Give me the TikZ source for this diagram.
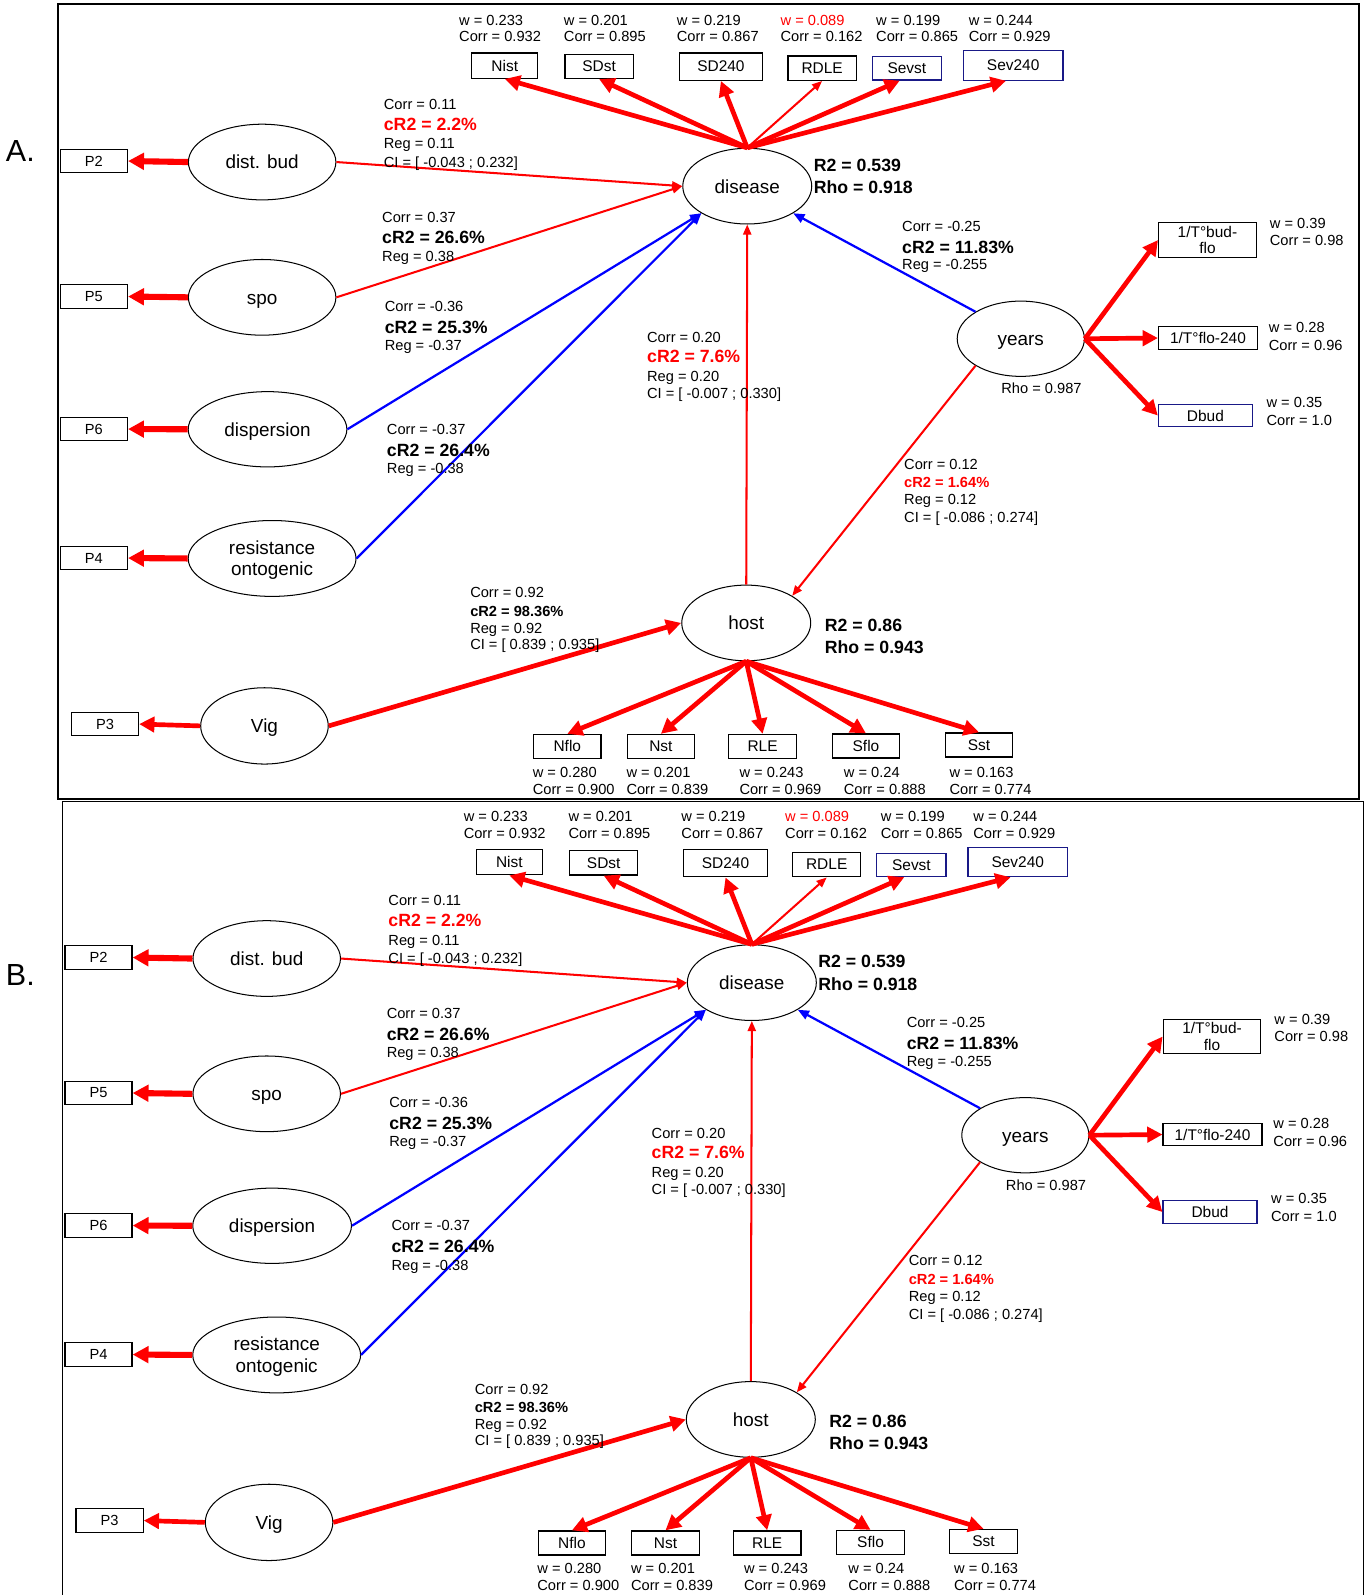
\documentclass[tikz,border=0pt]{standalone}
\usepackage{fontspec}
\setmainfont{Liberation Sans}
\usetikzlibrary{shapes.geometric,arrows.meta}

\definecolor{navybox}{RGB}{25,25,135}
\newcommand\fsz[2]{\fontsize{#1}{#2}\selectfont}
\newcounter{labc}
% \lbl[options]{x}{y}{text}: one line of a statistics label, left edge at x
\newcommand\lbl[4][]{\stepcounter{labc}\node[lab,#1] (lab\arabic{labc}) at (#2,#3) {#4};}

\tikzset{
  ell/.style={draw, ellipse, line width=0.5pt, inner sep=0pt, font=\fsz{9.3}{10.5}, align=center,
    text height=6.8pt, text depth=0pt},
  bx/.style={draw, rectangle, line width=0.6pt, inner sep=0pt, minimum height=11.8pt, font=\fsz{7.6}{8}, align=center},
  bbx/.style={bx, draw=navybox},
  pbx/.style={bx, minimum width=33pt, minimum height=11.5pt, font=\fsz{7.2}{8}},
  lab/.style={inner sep=0pt, anchor=mid west, font=\fsz{7.2}{8}},
  bigb/.style={font=\fsz{8.7}{10}\bfseries},
  smb/.style={font=\fsz{7.2}{8}\bfseries},
  fat/.style={draw=red, line width=2.3pt, -{Triangle[length=7.5pt,width=7.5pt]}},
  pfat/.style={draw=red, line width=3pt, -{Triangle[length=7.8pt,width=8pt]}},
  rln/.style={draw=red, line width=1pt, -{Triangle[length=5pt,width=4pt]}},
  bln/.style={draw=blue, line width=1.1pt, -{Triangle[length=5.5pt,width=4.5pt]}},
  frame/.style={draw=black, line width=0.75pt},
}

% one complete path model; #1 = name prefix, (#2,#3) = offset
\newcommand\drawpanel[3]{%
\begin{scope}[shift={(#2,#3)}]
  % latent variables
  \node[ell,minimum width=63.4pt,minimum height=37.2pt] (#1dis) at (734.6,183) {disease};
  \node[ell,minimum width=72.5pt,minimum height=37.2pt] (#1bud) at (257.7,159.3) {dist. bud};
  \node[ell,minimum width=72.5pt,minimum height=37.2pt] (#1spo) at (257.7,292.3) {spo};
  \node[ell,minimum width=78pt,minimum height=37pt] (#1dsp) at (263,422) {dispersion};
  \node[ell,minimum width=82.5pt,minimum height=37.3pt,text height=16.8pt] (#1res) at (267.5,549) {resistance\\ontogenic};
  \node[ell,minimum width=62.7pt,minimum height=37.5pt] (#1vig) at (260,713.6) {Vig};
  \node[ell,minimum width=63.4pt,minimum height=37.2pt] (#1host) at (733.6,612.4) {host};
  \node[ell,minimum width=62.5pt,minimum height=37pt] (#1yrs) at (1003.5,333) {years};
  % disease indicators
  \node[bx,minimum width=32.5pt,minimum height=12.5pt] (#1nist) at (496.2,64.5) {Nist};
  \node[bx,minimum width=33.5pt,minimum height=12pt] (#1sdst) at (589,65.2) {SDst};
  \node[bx,minimum width=41pt,minimum height=13.5pt] (#1sdd) at (708.7,65.5) {SD240};
  \node[bx,minimum width=33.5pt,minimum height=12pt] (#1rdle) at (808.2,67) {RDLE};
  \node[bbx,minimum width=34pt,minimum height=11.5pt] (#1sevst) at (891.5,67.2) {Sevst};
  \node[bbx,minimum width=49pt,minimum height=14.5pt] (#1sev) at (996,64.3) {Sev240};
  % manifest variables on the left
  \node[pbx] (#1pa) at (92.3,158.3) {P2};
  \node[pbx] (#1pb) at (92.3,291.5) {P5};
  \node[pbx] (#1pc) at (92.3,421.8) {P6};
  \node[pbx] (#1pd) at (92.3,548.6) {P4};
  \node[pbx] (#1pe) at (103.2,711.8) {P3};
  % years indicators
  \node[bx,minimum width=48pt,minimum height=17pt] (#1tbf) at (1187,236) {1/T°bud-\\flo};
  \node[bx,minimum width=48.6pt,minimum height=11pt] (#1tfl) at (1187.5,332.3) {1/T°flo-240};
  \node[bbx,minimum width=46.2pt,minimum height=11pt] (#1dbud) at (1185,408.5) {Dbud};
  % host indicators
  \node[bx,minimum width=33.2pt] (#1nflo) at (557.7,733.8) {Nflo};
  \node[bx,minimum width=33.2pt] (#1nst) at (649.7,733.8) {Nst};
  \node[bx,minimum width=33.2pt] (#1rle) at (749.7,733.8) {RLE};
  \node[bx,minimum width=33.2pt] (#1sflo) at (851.3,733.3) {Sflo};
  \node[bx,minimum width=33.2pt] (#1sst) at (962.4,732.3) {Sst};
  % loadings
  \draw[fat] (#1dis.north) -- (#1nist.south);
  \draw[fat] (#1dis.north) -- (#1sdst.south);
  \draw[fat] (#1dis.north) -- (#1sdd.south);
  \draw[rln] (#1dis.north) -- (#1rdle.south);
  \draw[fat] (#1dis.north) -- ([xshift=-3.5pt]#1sevst.south);
  \draw[fat] (#1dis.north) -- ([xshift=-3.5pt]#1sev.south);
  \draw[pfat] (#1bud.west) -- (#1pa.east);
  \draw[pfat] (#1spo.west) -- (#1pb.east);
  \draw[pfat] (#1dsp.west) -- (#1pc.east);
  \draw[pfat] (#1res.west) -- (#1pd.east);
  \draw[fat] (#1vig.west) -- (#1pe.east);
  \draw[fat] (#1yrs.east) -- (#1tbf.west);
  \draw[fat] (#1yrs.east) -- (#1tfl.west);
  \draw[fat] (#1yrs.east) -- (#1dbud.west);
  \draw[fat] (#1host.south) -- (#1nflo.north);
  \draw[fat] (#1host.south) -- (#1nst.north);
  \draw[fat] (#1host.south) -- (#1rle.north);
  \draw[fat] (#1host.south) -- (#1sflo.north);
  \draw[fat] (#1host.south) -- (#1sst.north);
  % structural paths
  \draw[rln] (#1bud.east) -- (#1dis.west);
  \draw[rln] (#1spo.east) -- (#1dis.west);
  \draw[bln] (#1dsp.east) -- (#1dis.south west);
  \draw[bln] (#1res.east) -- (#1dis.south west);
  \draw[bln] (#1yrs.north west) -- (#1dis.south east);
  \draw[rln] (#1host.north) -- (#1dis.south);
  \draw[rln] (#1yrs.south west) -- (#1host.north east);
  \draw[fat] (#1vig.east) -- (#1host.west);
  % weights of the disease indicators
  \lbl{451}{19.7}{w = 0.233} \lbl{451}{36}{Corr = 0.932}
  \lbl{554}{19.7}{w = 0.201} \lbl{554}{36}{Corr = 0.895}
  \lbl{665}{19.7}{w = 0.219} \lbl{665}{36}{Corr = 0.867}
  \lbl[text=red]{767}{19.7}{w = 0.089} \lbl{767}{36}{Corr = 0.162}
  \lbl{861}{19.7}{w = 0.199} \lbl{861}{36}{Corr = 0.865}
  \lbl{952}{19.7}{w = 0.244} \lbl{952}{36}{Corr = 0.929}
  % fit of the endogenous variables
  \lbl[bigb]{799.7}{163.2}{R2 = 0.539} \lbl[bigb]{799.7}{185.2}{Rho = 0.918}
  \lbl[bigb]{810.5}{615.5}{R2 = 0.86} \lbl[bigb]{810.5}{636.8}{Rho = 0.943}
  \lbl{984}{381.8}{Rho = 0.987}
  % path statistics
  \lbl{377}{102.3}{Corr = 0.11}
  \lbl[bigb,text=red]{377}{123}{cR2 = 2.2\%}
  \lbl{377}{141}{Reg = 0.11}
  \lbl{377}{159}{CI = [ -0.043 ; 0.232]}
  \lbl{375.3}{213}{Corr = 0.37}
  \lbl[bigb]{375.3}{234.3}{cR2 = 26.6\%}
  \lbl{375.3}{251.4}{Reg = 0.38}
  \lbl{377.9}{300.9}{Corr = -0.36}
  \lbl[bigb]{377.9}{322.2}{cR2 = 25.3\%}
  \lbl{377.9}{339.2}{Reg = -0.37}
  \lbl{380}{421.8}{Corr = -0.37}
  \lbl[bigb]{380}{443.1}{cR2 = 26.4\%}
  \lbl{380}{460.4}{Reg = -0.38}
  \lbl{635.8}{331}{Corr = 0.20}
  \lbl[bigb,text=red]{635.8}{350.7}{cR2 = 7.6\%}
  \lbl{635.8}{369.4}{Reg = 0.20}
  \lbl{635.8}{386.1}{CI = [ -0.007 ; 0.330]}
  \lbl{886.5}{222.2}{Corr = -0.25}
  \lbl[bigb]{886.5}{243.5}{cR2 = 11.83\%}
  \lbl{886.5}{259.9}{Reg = -0.255}
  \lbl{888.5}{456.2}{Corr = 0.12}
  \lbl[smb,text=red]{888.5}{474.2}{cR2 = 1.64\%}
  \lbl{888.5}{491}{Reg = 0.12}
  \lbl{888.5}{508.6}{CI = [ -0.086 ; 0.274]}
  \lbl{461.9}{582.4}{Corr = 0.92}
  \lbl[smb]{461.9}{600.7}{cR2 = 98.36\%}
  \lbl{461.9}{617.1}{Reg = 0.92}
  \lbl{461.9}{633.2}{CI = [ 0.839 ; 0.935]}
  % weights of the years indicators
  \lbl{1248}{219}{w = 0.39} \lbl{1248}{236}{Corr = 0.98}
  \lbl{1247}{321.2}{w = 0.28} \lbl{1247}{339.2}{Corr = 0.96}
  \lbl{1244.7}{395}{w = 0.35} \lbl{1244.7}{413}{Corr = 1.0}
  % weights of the host indicators
  \lbl{523.4}{759}{w = 0.280} \lbl{523.4}{775.7}{Corr = 0.900}
  \lbl{615.5}{759}{w = 0.201} \lbl{615.5}{775.7}{Corr = 0.839}
  \lbl{726.6}{759}{w = 0.243} \lbl{726.6}{775.7}{Corr = 0.969}
  \lbl{829.2}{759}{w = 0.24} \lbl{829.2}{775.7}{Corr = 0.888}
  \lbl{933.1}{759}{w = 0.163} \lbl{933.1}{775.7}{Corr = 0.774}
\end{scope}}

\begin{document}
\begin{tikzpicture}[x=0.5pt,y=-0.5pt]
  \useasboundingbox (0,0) rectangle (1343,1568);
  % panel frames
  \draw[frame] (57,4) rectangle (1336,785.5);
  \draw[frame] (61.5,1575) -- (61.5,788) -- (1340.5,788) -- (1340.5,1575);
  % panel letters
  \node[font=\fsz{15}{15}] (lettera) at (20,148) {A.};
  \node[font=\fsz{15}{15}] (letterb) at (20,958) {B.};
  \drawpanel{A}{0}{0}
  \drawpanel{B}{4.5}{783}
\end{tikzpicture}
\end{document}
